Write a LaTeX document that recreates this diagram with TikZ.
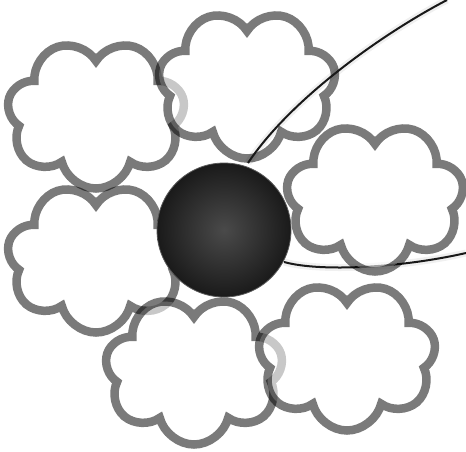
\documentclass[tikz,border=0pt]{standalone}
\usetikzlibrary{shapes.symbols}
\definecolor{sphin}{HTML}{4A4A4A}
\definecolor{sphout}{HTML}{1A1A1A}
\tikzset{
  puff/.style={cloud, cloud puffs=7, cloud puff arc=152, cloud ignores aspect, rotate=180,
    draw=black, draw opacity=0.52, fill=white, fill opacity=0.59,
    line width=8.5pt, minimum width=178pt, minimum height=149pt, inner sep=0pt},
  stem/.style={line width=2pt, black!90},
  halo/.style={line width=7pt, black, opacity=0.06}
}
\begin{document}
\begin{tikzpicture}[x=1pt,y=-1pt]
\useasboundingbox (0,0) rectangle (466,451);
\fill[white] (0,0) rectangle (466,451);
\coordinate (sc) at (224,230);
\coordinate (e1) at (447,0);
\coordinate (e2) at (466,253);
\coordinate (s1) at (248,163);
\coordinate (s2) at (284,262);
% lower stem
\draw[halo] (s2) .. controls (320,272) and (400,268) .. (e2);
\draw[stem] (s2) .. controls (320,272) and (400,268) .. (e2);
% clouds
\node[puff] (c4) at (96,258) {};
\node[puff] (c5) at (194,370) {};
\node[puff] (c6) at (347,356) {};
\node[puff] (c1) at (96,114) {};
\node[puff] (c3) at (375,197) {};
\node[puff] (c2) at (247,84) {};
% upper stem
\draw[halo] (e1) .. controls (380,35) and (290,100) .. (s1);
\draw[stem] (e1) .. controls (380,35) and (290,100) .. (s1);
% sphere
\node[circle, minimum size=134pt, inner sep=0pt, draw=black!65, line width=0.8pt,
  inner color=sphin, outer color=sphout] (sp) at (sc) {};
\end{tikzpicture}
\end{document}
